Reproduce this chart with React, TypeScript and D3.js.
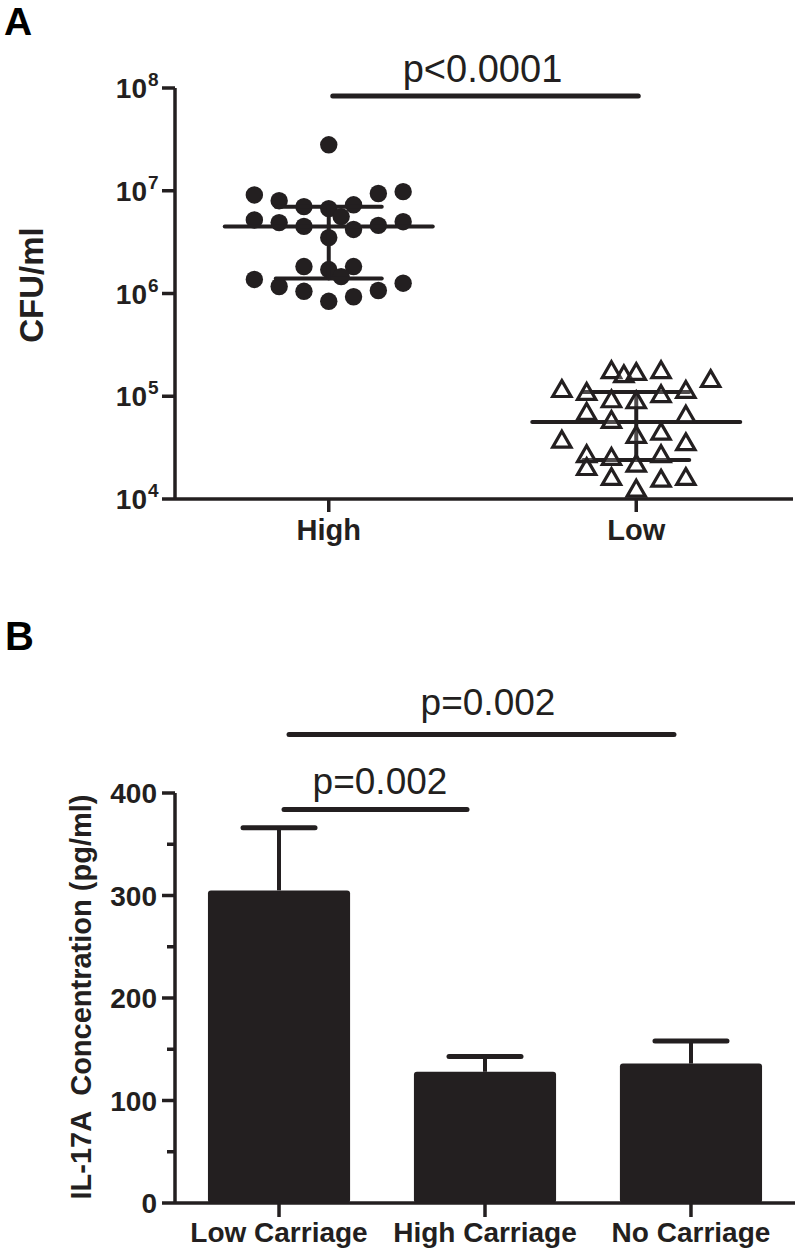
import * as d3 from "d3"

// ---- panel A: CFU/ml per carriage group (log scale) ----
const groupsA = ["High", "Low"]

// values, with their column in the scatter (units of one dot spacing)
const highValues = [
  2.8e7, 9.1e6, 8.0e6, 7.0e6, 6.7e6, 7.3e6, 9.4e6, 9.8e6, 5.6e6, 5.2e6, 4.9e6, 4.5e6, 4.2e6, 4.6e6,
  5.0e6, 3.5e6, 1.83e6, 1.71e6, 1.83e6, 1.46e6, 1.37e6, 1.17e6, 1.05e6, 8.4e5, 9.3e5, 1.07e6, 1.26e6,
]
const highCols = [0, -3, -2, -1, 0, 1, 2, 3, 0.5, -3, -2, -1, 1, 2, 3, 0, -1, 0, 1, 0.5, -3, -2, -1, 0, 1, 2, 3]

const lowValues = [
  1.71e5, 1.56e5, 1.64e5, 1.71e5, 1.4e5, 1.12e5, 1.05e5, 8.9e4, 8.7e4, 1.0e5, 1.1e5, 6.7e4, 5.6e4, 6.3e4,
  3.6e4, 4.0e4, 4.3e4, 3.4e4, 2.6e4, 2.45e4, 2.1e4, 2.6e4, 1.95e4, 1.56e4, 1.5e4, 1.56e4, 1.2e4,
]
const lowCols = [-1, -0.5, 0, 1, 3, -3, -2, -1, 0, 1, 2, -2, -1, 2, -3, 0, 1, 2, -2, -1, 0, 1, -2, -1, 1, 2, 0]

// [Q1, median, Q3]
const highSummary = [1.4e6, 4.5e6, 7.0e6]
const lowSummary = [2.4e4, 5.6e4, 1.1e5]

const logTicks = [1e4, 1e5, 1e6, 1e7, 1e8]
const pValueA = "p<0.0001"

// ---- panel B: IL-17A bars ----
const groupsB = ["Low Carriage", "High Carriage", "No Carriage"]
const il17Mean = [305, 128, 136]
const il17Sem = [61, 15, 22]
const linTicks = [0, 100, 200, 300, 400]
const minorTicks = [50, 150, 250, 350]
const pValuesB = ["p=0.002", "p=0.002"]

const ink = "#231f20"
const font = "'Liberation Sans', Arial, Helvetica, sans-serif"

export default function App() {
  // panel A scales
  const left = 175
  const xA = d3.scalePoint<string>().domain(groupsA).range([left, 790]).padding(0.5)
  const yA = d3.scaleLog().domain([1e4, 1e8]).range([499, 88])
  const colW = 24.8
  const tri = d3.symbol().type(d3.symbolTriangle).size(145)()

  // panel B scales
  const xB = d3.scaleBand<string>().domain(groupsB).range([left, 795]).paddingInner(0.31).paddingOuter(0.16)
  const yB = d3.scaleLinear().domain([0, 400]).range([1203, 793])

  const summaryLines = (cx: number, s: number[]) => (
    <g stroke={ink} strokeWidth={4} strokeLinecap="round">
      <line x1={cx - 104} x2={cx + 104} y1={yA(s[1])} y2={yA(s[1])} />
      <line x1={cx - 53} x2={cx + 53} y1={yA(s[0])} y2={yA(s[0])} />
      <line x1={cx - 53} x2={cx + 53} y1={yA(s[2])} y2={yA(s[2])} />
      <line x1={cx} x2={cx} y1={yA(s[0])} y2={yA(s[2])} />
    </g>
  )

  const hx = xA("High")!
  const lx = xA("Low")!

  return (
    <svg
      width={800}
      height={1253}
      style={{ position: "absolute", left: 0, top: 0, background: "#fff" }}
      fontFamily={font}
    >
      {/* ===== Panel A ===== */}
      <text x={4} y={35} fontSize={39} fontWeight="bold" fill="#000">A</text>

      {/* axes */}
      <g stroke={ink} strokeWidth={3.5} fill="none">
        <line x1={left} x2={left} y1={yA(1e8)} y2={yA(1e4)} />
        <line x1={left} x2={793} y1={yA(1e4)} y2={yA(1e4)} />
        {logTicks.map(t => (
          <line key={t} x1={162} x2={left} y1={yA(t)} y2={yA(t)} />
        ))}
        {groupsA.map(g => (
          <line key={g} x1={xA(g)!} x2={xA(g)!} y1={yA(1e4)} y2={512} />
        ))}
      </g>
      {logTicks.map(t => (
        <text key={t} x={147} y={yA(t) + 10} fontSize={28} fontWeight="bold" fill={ink} textAnchor="end">
          10
          <tspan x={148} dy={-12} fontSize={19} textAnchor="start">{Math.round(Math.log10(t))}</tspan>
        </text>
      ))}
      {groupsA.map(g => (
        <text key={g} x={xA(g)!} y={540} fontSize={29} fontWeight="bold" fill={ink} textAnchor="middle">{g}</text>
      ))}
      <text
        transform={`translate(43,285) rotate(-90)`}
        fontSize={33}
        fontWeight="bold"
        fill={ink}
        textAnchor="middle"
      >
        CFU/ml
      </text>

      {/* high group dots */}
      {highValues.map((v, i) => (
        <circle key={i} cx={hx + highCols[i] * colW} cy={yA(v)} r={8.7} fill={ink} />
      ))}
      {summaryLines(hx, highSummary)}

      {/* low group triangles */}
      {summaryLines(lx, lowSummary)}
      {lowValues.map((v, i) => (
        <path
          key={i}
          d={tri!}
          transform={`translate(${lx + lowCols[i] * colW},${yA(v)})`}
          fill="#fff"
          fillOpacity={0.2}
          stroke={ink}
          strokeWidth={3.2}
          strokeLinejoin="miter"
        />
      ))}

      {/* significance */}
      <line x1={hx + 4} x2={lx + 2} y1={96} y2={96} stroke={ink} strokeWidth={5} strokeLinecap="round" />
      <text x={(hx + lx) / 2} y={82} fontSize={38} fill={ink} textAnchor="middle">{pValueA}</text>

      {/* ===== Panel B ===== */}
      <text x={5} y={650} fontSize={40} fontWeight="bold" fill="#000">B</text>

      {/* bars */}
      {groupsB.map((g, i) => {
        const x0 = xB(g)!
        const bw = xB.bandwidth()
        const cx = x0 + bw / 2
        const top = yB(il17Mean[i] + il17Sem[i])
        return (
          <g key={g}>
            <line x1={cx} x2={cx} y1={top} y2={yB(il17Mean[i])} stroke={ink} strokeWidth={4} />
            <line x1={cx - 36} x2={cx + 36} y1={top} y2={top} stroke={ink} strokeWidth={5} strokeLinecap="round" />
            <rect x={x0} y={yB(il17Mean[i])} width={bw} height={yB(0) - yB(il17Mean[i])} rx={3} fill={ink} />
          </g>
        )
      })}

      <g stroke={ink} strokeWidth={3.5} fill="none">
        <line x1={left} x2={left} y1={yB(400)} y2={yB(0)} />
        <line x1={left} x2={795} y1={yB(0)} y2={yB(0)} />
        {linTicks.map(t => (
          <line key={t} x1={162} x2={left} y1={yB(t)} y2={yB(t)} />
        ))}
        {minorTicks.map(t => (
          <line key={t} x1={167} x2={left} y1={yB(t)} y2={yB(t)} />
        ))}
        {groupsB.map(g => (
          <line key={g} x1={xB(g)! + xB.bandwidth() / 2} x2={xB(g)! + xB.bandwidth() / 2} y1={yB(0)} y2={1217} />
        ))}
      </g>
      {linTicks.map(t => (
        <text key={t} x={157} y={yB(t) + 10} fontSize={28} fontWeight="bold" fill={ink} textAnchor="end">{t}</text>
      ))}
      {groupsB.map(g => (
        <text
          key={g}
          x={xB(g)! + xB.bandwidth() / 2}
          y={1242}
          fontSize={28}
          fontWeight="bold"
          fill={ink}
          textAnchor="middle"
        >
          {g}
        </text>
      ))}
      <text
        transform={`translate(91,997) rotate(-90)`}
        fontSize={29}
        fontWeight="bold"
        fill={ink}
        textAnchor="middle"
        style={{ whiteSpace: "pre" }}
      >
        {"IL-17A  Concentration (pg/ml)"}
      </text>

      {/* comparisons */}
      {(() => {
        const c = groupsB.map(g => xB(g)! + xB.bandwidth() / 2)
        const yLow = yB(384)
        const yHigh = yB(457)
        return (
          <g>
            <line x1={c[0] + 5} x2={c[1] - 18} y1={yLow} y2={yLow} stroke={ink} strokeWidth={5} strokeLinecap="round" />
            <text x={(c[0] + c[1]) / 2 - 2} y={yLow - 15} fontSize={37} fill={ink} textAnchor="middle">{pValuesB[0]}</text>
            <line x1={c[0] + 10} x2={c[2] - 17} y1={yHigh} y2={yHigh} stroke={ink} strokeWidth={5} strokeLinecap="round" />
            <text x={(c[0] + c[2]) / 2 + 3} y={yHigh - 20} fontSize={37} fill={ink} textAnchor="middle">{pValuesB[1]}</text>
          </g>
        )
      })()}
    </svg>
  )
}
